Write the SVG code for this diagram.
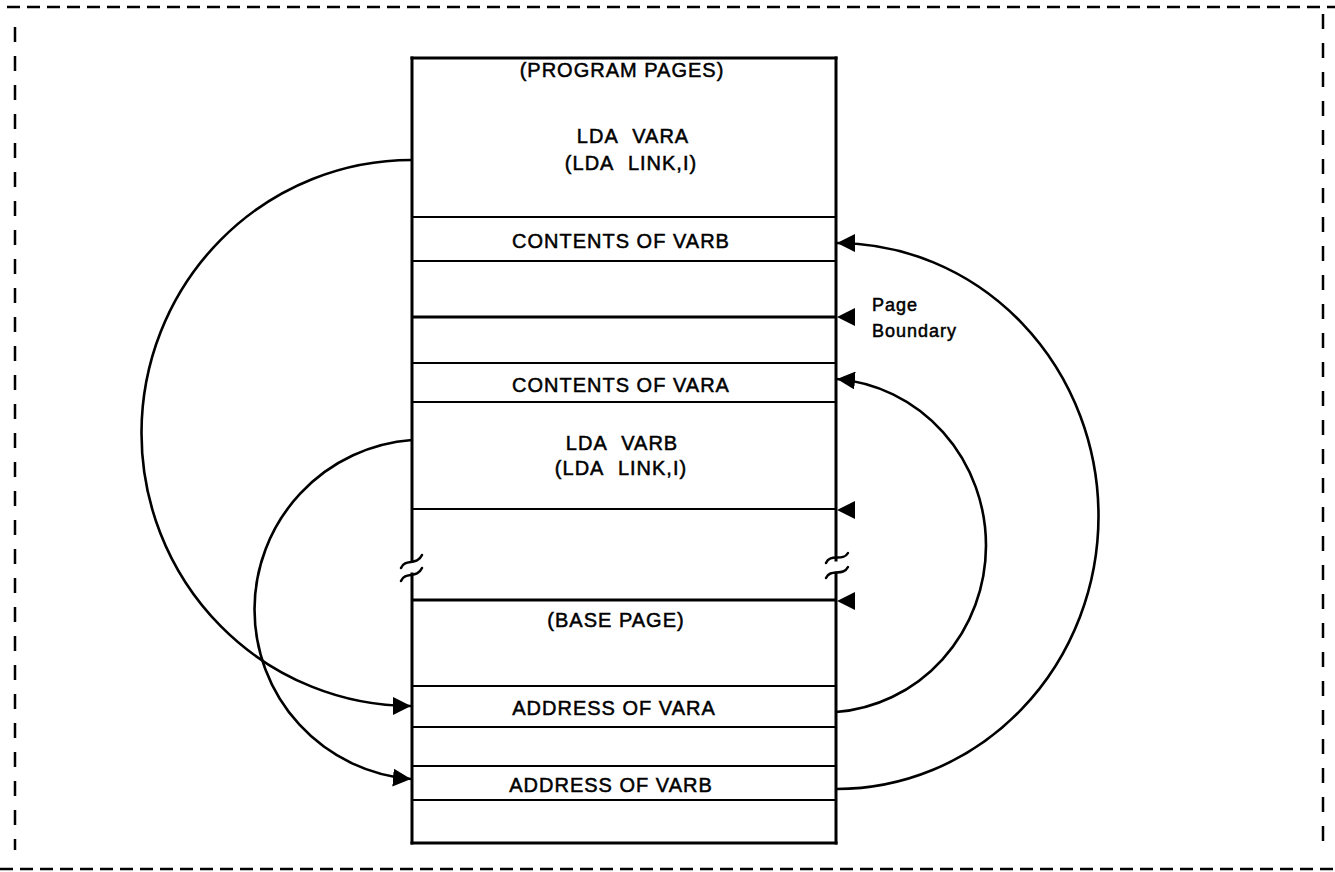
<svg xmlns="http://www.w3.org/2000/svg" width="1335" height="872" viewBox="0 0 1335 872">
<style>
  .bg{fill:#ffffff}
  .dash-h{stroke:#000;stroke-width:2.5;stroke-dasharray:13 7;fill:none}
  .dash-v{stroke:#000;stroke-width:2.5;stroke-dasharray:15 14;fill:none}
  .edge{stroke:#000;stroke-width:3;fill:none;stroke-linecap:square}
  .row{stroke:#000;stroke-width:2.2;fill:none}
  .pb{stroke:#000;stroke-width:3;fill:none}
  .brk{stroke:#000;stroke-width:2.5;fill:none;stroke-linecap:round}
  .conn{stroke:#000;stroke-width:2.6;fill:none}
  .lbl{font-family:"Liberation Sans",Arial,sans-serif;font-size:20px;letter-spacing:1px;fill:#000;stroke:#000;stroke-width:0.5;text-anchor:middle}
  .ws{word-spacing:8px}
  .note{font-family:"Liberation Sans",Arial,sans-serif;font-size:18px;letter-spacing:1px;fill:#000;stroke:#000;stroke-width:0.5}
  .ah{fill:#000}
</style>
<defs>
  <marker id="arrow" markerUnits="userSpaceOnUse" viewBox="0 0 18 18" refX="18" refY="9" markerWidth="18" markerHeight="18" orient="auto">
    <path d="M0,0 L18,9 L0,18 z" fill="#000"/>
  </marker>
  <path id="lt" d="M0,0 L18,-9 L18,9 z"/>
</defs>
<rect class="bg" x="0" y="0" width="1335" height="872"/>

<g id="frame">
  <line class="dash-h" x1="7" y1="7" x2="1335" y2="7"/>
  <line class="dash-h" x1="0" y1="869" x2="1335" y2="869"/>
  <line class="dash-v" x1="15" y1="27" x2="15" y2="850"/>
  <line class="dash-v" x1="1323" y1="14" x2="1323" y2="850"/>
</g>

<g id="memory">
  <line class="edge" x1="412" y1="58" x2="836" y2="58"/>
  <line class="edge" x1="412" y1="843" x2="836" y2="843"/>
  <line class="edge" x1="412" y1="58" x2="412" y2="561"/>
  <line class="edge" x1="412" y1="574" x2="412" y2="843"/>
  <line class="edge" x1="836" y1="58" x2="836" y2="560"/>
  <line class="edge" x1="836" y1="573" x2="836" y2="843"/>
  <line class="row" x1="412" y1="217" x2="836" y2="217"/>
  <line class="row" x1="412" y1="261" x2="836" y2="261"/>
  <line class="pb" x1="412" y1="317" x2="836" y2="317"/>
  <line class="row" x1="412" y1="363" x2="836" y2="363"/>
  <line class="row" x1="412" y1="402" x2="836" y2="402"/>
  <line class="row" x1="412" y1="509" x2="836" y2="509"/>
  <line class="pb" x1="412" y1="600" x2="836" y2="600"/>
  <line class="row" x1="412" y1="686" x2="836" y2="686"/>
  <line class="row" x1="412" y1="727" x2="836" y2="727"/>
  <line class="row" x1="412" y1="766" x2="836" y2="766"/>
  <line class="row" x1="412" y1="800" x2="836" y2="800"/>
  <path class="brk" d="M401 568 C405 558, 417 566, 422 555"/>
  <path class="brk" d="M401 581 C405 571, 417 579, 422 568"/>
  <path class="brk" d="M826 563 C830 553, 843 562, 848 553"/>
  <path class="brk" d="M826 578 C830 568, 843 577, 848 567"/>
</g>

<g id="program-pages">
  <text class="lbl" x="622" y="77">(PROGRAM PAGES)</text>
</g>
<g id="lda-vara">
  <text class="lbl ws" x="633" y="143">LDA VARA</text>
  <text class="lbl ws" x="631" y="170">(LDA LINK,I)</text>
</g>
<g id="contents-varb">
  <text class="lbl" x="621" y="248">CONTENTS OF VARB</text>
</g>
<g id="contents-vara">
  <text class="lbl" x="621" y="392">CONTENTS OF VARA</text>
</g>
<g id="lda-varb">
  <text class="lbl ws" x="622" y="450">LDA VARB</text>
  <text class="lbl ws" x="621" y="475">(LDA LINK,I)</text>
</g>
<g id="base-page">
  <text class="lbl" x="616" y="627">(BASE PAGE)</text>
</g>
<g id="address-vara">
  <text class="lbl" x="614" y="715">ADDRESS OF VARA</text>
</g>
<g id="address-varb">
  <text class="lbl" x="611" y="792">ADDRESS OF VARB</text>
</g>
<g id="page-boundary">
  <text class="note" x="872" y="311">Page</text>
  <text class="note" x="872" y="337">Boundary</text>
</g>

<g id="connectors">
  <path class="conn" marker-end="url(#arrow)" d="M412 160 A270 273 0 0 0 411 706"/>
  <path class="conn" marker-end="url(#arrow)" d="M412 440 A170 170 0 0 0 411 779"/>
  <path class="conn" marker-end="url(#arrow)" d="M836 712 A162 167 0 0 0 837 379"/>
  <path class="conn" marker-end="url(#arrow)" d="M836 789 A262 273 0 0 0 837 243"/>
  <use class="ah" href="#lt" x="837" y="317"/>
  <use class="ah" href="#lt" x="837" y="510"/>
  <use class="ah" href="#lt" x="837" y="601"/>
</g>
</svg>
